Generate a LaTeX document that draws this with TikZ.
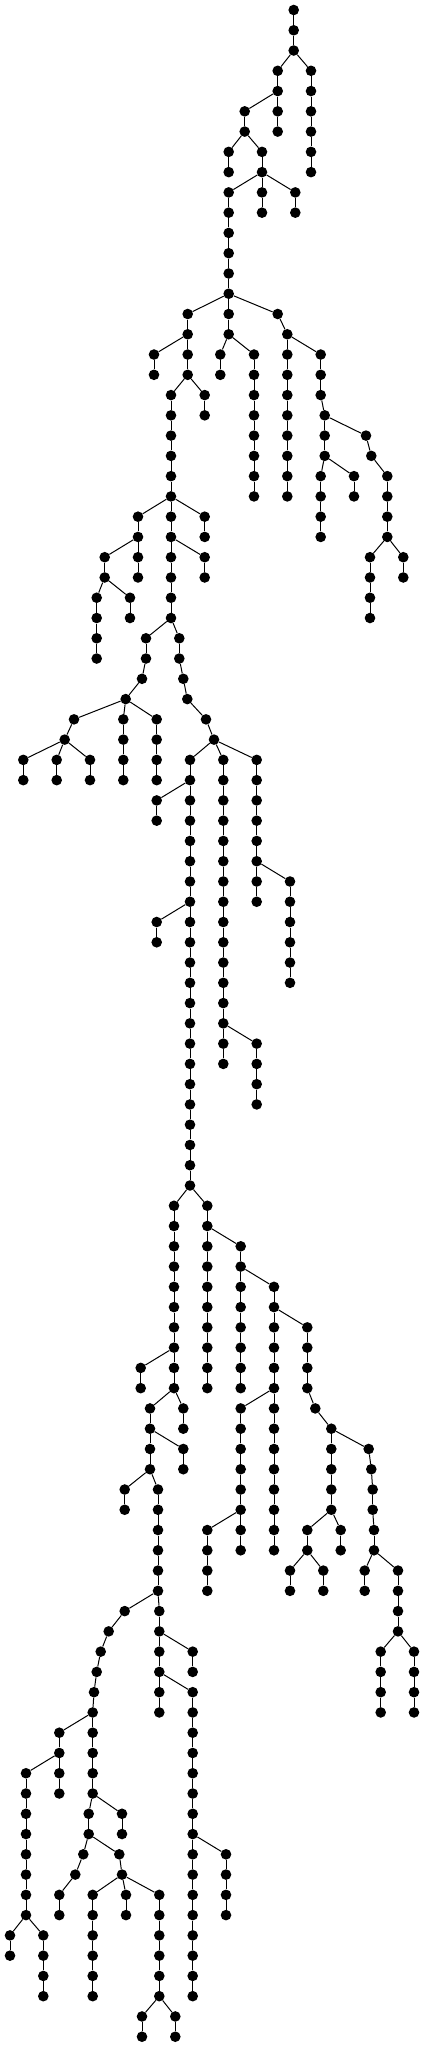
\documentclass[tikz,border=0pt]{standalone}
\begin{document}
\begin{tikzpicture}[x=1pt,y=-20.267pt,
  treedot/.style={circle,fill=black,draw=none,inner sep=0pt,minimum size=10.6pt},
  treeedge/.style={draw=black,line width=1pt}]
\useasboundingbox[fill=white] (0pt,10pt) rectangle (424pt,-2037pt);
\node[treedot] (n1) at (293.7,0) {};
\foreach \i/\x/\l/\p in {
2/293.7/1/1,
3/293.7/2/2,
4/277.7/3/3, 5/311/3/3,
6/277.7/4/4, 7/311/4/5,
8/244.7/5/6, 9/277.7/5/6, 10/311/5/7,
11/244.7/6/8, 12/277.7/6/9, 13/311/6/10,
14/228.7/7/11, 15/262/7/11, 16/311/7/13,
17/228.7/8/14, 18/262/8/15, 19/311/8/16,
20/228.7/9/18, 21/262/9/18, 22/295.3/9/18,
23/228.7/10/20, 24/262/10/21, 25/295.3/10/22,
26/228.7/11/23,
27/228.7/12/26,
28/228.7/13/27,
29/228.7/14/28,
30/187.7/15/29, 31/228.7/15/29, 32/277.7/15/29,
33/187.7/16/30, 34/228.7/16/31, 35/287.3/16/32,
36/154/17/33, 37/187.7/17/33, 38/220.3/17/34, 39/254/17/34, 40/287.3/17/35, 41/320.7/17/35,
42/154/18/36, 43/187.7/18/37, 44/220.3/18/38, 45/254/18/39, 46/287.3/18/40, 47/320.7/18/41,
48/171/19/43, 49/204.7/19/43, 50/254/19/45, 51/287.3/19/46, 52/320.7/19/47,
53/171/20/48, 54/204.7/20/49, 55/254/20/50, 56/287.3/20/51, 57/324.7/20/52,
58/171/21/53, 59/254/21/55, 60/287.3/21/56, 61/324.7/21/57, 62/366/21/57,
63/171/22/58, 64/254/22/59, 65/287.3/22/60, 66/324.7/22/61, 67/371.3/22/62,
68/171/23/63, 69/254/23/64, 70/287.3/23/65, 71/320.7/23/66, 72/354/23/66, 73/387.3/23/67,
74/171/24/68, 75/254/24/69, 76/287.3/24/70, 77/320.7/24/71, 78/354/24/72, 79/387.3/24/73,
80/138/25/74, 81/171/25/74, 82/204.7/25/74, 83/320.7/25/77, 84/387.3/25/79,
85/138/26/80, 86/171/26/81, 87/204.7/26/82, 88/320.7/26/83, 89/387.3/26/84,
90/104.7/27/85, 91/138/27/85, 92/171/27/86, 93/204.7/27/86, 94/370/27/89, 95/403.3/27/89,
96/104.7/28/90, 97/138/28/91, 98/171/28/92, 99/204.7/28/93, 100/370/28/94, 101/403.3/28/95,
102/96.7/29/96, 103/130/29/96, 104/171/29/98, 105/370/29/100,
106/96.7/30/102, 107/130/30/103, 108/171/30/104, 109/370/30/105,
110/96.7/31/106, 111/146/31/108, 112/179.3/31/108,
113/96.7/32/110, 114/146/32/111, 115/179.3/32/112,
116/142/33/114, 117/183.3/33/115,
118/125.7/34/116, 119/187.3/34/117,
120/74/35/118, 121/123.3/35/118, 122/156.7/35/118, 123/206/35/119,
124/64.7/36/120, 125/123.3/36/121, 126/156.7/36/122, 127/214/36/123,
128/23.3/37/124, 129/56.7/37/124, 130/90/37/124, 131/123.3/37/125, 132/156.7/37/126, 133/190/37/127, 134/223.3/37/127, 135/256.7/37/127,
136/23.3/38/128, 137/56.7/38/129, 138/90/38/130, 139/123.3/38/131, 140/156.7/38/132, 141/190/38/133, 142/223.3/38/134, 143/256.7/38/135,
144/156.7/39/141, 145/190/39/141, 146/223.3/39/142, 147/256.7/39/143,
148/156.7/40/144, 149/190/40/145, 150/223.3/40/146, 151/256.7/40/147,
152/190/41/149, 153/223.3/41/150, 154/256.7/41/151,
155/190/42/152, 156/223.3/42/153, 157/256.7/42/154,
158/190/43/155, 159/223.3/43/156, 160/256.7/43/157, 161/290/43/157,
162/190/44/158, 163/223.3/44/159, 164/256.7/44/160, 165/290/44/161,
166/156.7/45/162, 167/190/45/162, 168/223.3/45/163, 169/290/45/165,
170/156.7/46/166, 171/190/46/167, 172/223.3/46/168, 173/290/46/169,
174/190/47/171, 175/223.3/47/172, 176/290/47/173,
177/190/48/174, 178/223.3/48/175, 179/290/48/176,
180/190/49/177, 181/223.3/49/178,
182/190/50/180, 183/223.3/50/181,
184/190/51/182, 185/223.3/51/183, 186/256.7/51/183,
187/190/52/184, 188/223.3/52/185, 189/256.7/52/186,
190/190/53/187, 191/256.7/53/189,
192/190/54/190, 193/256.7/54/191,
194/190/55/192,
195/190/56/194,
196/190/57/195,
197/190/58/196,
198/174/59/197, 199/207.3/59/197,
200/174/60/198, 201/207.3/60/199,
202/174/61/200, 203/207.3/61/201, 204/240.7/61/201,
205/174/62/202, 206/207.3/62/203, 207/240.7/62/204,
208/174/63/205, 209/207.3/63/206, 210/240.7/63/207, 211/274/63/207,
212/174/64/208, 213/207.3/64/209, 214/240.7/64/210, 215/274/64/211,
216/174/65/212, 217/207.3/65/213, 218/240.7/65/214, 219/274/65/215, 220/307.3/65/215,
221/174/66/216, 222/207.3/66/217, 223/240.7/66/218, 224/274/66/219, 225/307.3/66/220,
226/140.7/67/221, 227/174/67/221, 228/207.3/67/222, 229/240.7/67/223, 230/274/67/224, 231/307.3/67/225,
232/140.7/68/226, 233/174/68/227, 234/207.3/68/228, 235/240.7/68/229, 236/274/68/230, 237/307.3/68/231,
238/150/69/233, 239/183.3/69/233, 240/240.7/69/236, 241/274/69/236, 242/315.3/69/237,
243/150/70/238, 244/183.3/70/239, 245/240.7/70/240, 246/274/70/241, 247/331.3/70/242,
248/150/71/243, 249/183.3/71/243, 250/240.7/71/245, 251/274/71/246, 252/331.3/71/247, 253/368.7/71/247,
254/150/72/248, 255/183.3/72/249, 256/240.7/72/250, 257/274/72/251, 258/331.3/72/252, 259/371.3/72/253,
260/124.7/73/254, 261/158/73/254, 262/240.7/73/256, 263/274/73/257, 264/331.3/73/258, 265/372.7/73/259,
266/124.7/74/260, 267/158/74/261, 268/240.7/74/262, 269/274/74/263, 270/331.3/74/264, 271/372.7/74/265,
272/158/75/267, 273/207.3/75/268, 274/240.7/75/268, 275/274/75/269, 276/307.3/75/270, 277/340.7/75/270, 278/374/75/271,
279/158/76/272, 280/207.3/76/273, 281/240.7/76/274, 282/274/76/275, 283/307.3/76/276, 284/340.7/76/277, 285/374/76/278,
286/158/77/279, 287/207.3/77/280, 288/290/77/283, 289/323.3/77/283, 290/364.7/77/285, 291/398/77/285,
292/158/78/286, 293/207.3/78/287, 294/290/78/288, 295/323.3/78/289, 296/364.7/78/290, 297/398/78/291,
298/124.7/79/292, 299/159.3/79/292, 300/398/79/297,
301/108.7/80/298, 302/159.3/80/299, 303/398/80/300,
304/100.7/81/301, 305/159.3/81/302, 306/192.7/81/302, 307/380.7/81/303, 308/414/81/303,
309/96.7/82/304, 310/159.3/82/305, 311/192.7/82/306, 312/380.7/82/307, 313/414/82/308,
314/94/83/309, 315/159.3/83/310, 316/192.7/83/310, 317/380.7/83/312, 318/414/83/313,
319/92.7/84/314, 320/159.3/84/315, 321/192.7/84/316, 322/380.7/84/317, 323/414/84/318,
324/59.3/85/319, 325/92.7/85/319, 326/192.7/85/321,
327/59.3/86/324, 328/92.7/86/325, 329/192.7/86/326,
330/26/87/327, 331/59.3/87/327, 332/92.7/87/328, 333/192.7/87/329,
334/26/88/330, 335/59.3/88/331, 336/92.7/88/332, 337/192.7/88/333,
338/26/89/334, 339/88.7/89/336, 340/122/89/336, 341/192.7/89/337,
342/26/90/338, 343/88.7/90/339, 344/122/90/340, 345/192.7/90/341,
346/26/91/342, 347/83.3/91/343, 348/119.3/91/343, 349/192.7/91/345, 350/226/91/345,
351/26/92/346, 352/75.3/92/347, 353/122/92/348, 354/192.7/92/349, 355/226/92/350,
356/26/93/351, 357/59.3/93/352, 358/92.7/93/353, 359/126/93/353, 360/159.3/93/353, 361/192.7/93/354, 362/226/93/355,
363/26/94/356, 364/59.3/94/357, 365/92.7/94/358, 366/126/94/359, 367/159.3/94/360, 368/192.7/94/361, 369/226/94/362,
370/10/95/363, 371/43.3/95/363, 372/92.7/95/365, 373/159.3/95/367, 374/192.7/95/368,
375/10/96/370, 376/43.3/96/371, 377/92.7/96/372, 378/159.3/96/373, 379/192.7/96/374,
380/43.3/97/376, 381/92.7/97/377, 382/159.3/97/378, 383/192.7/97/379,
384/43.3/98/380, 385/92.7/98/381, 386/159.3/98/382, 387/192.7/98/383,
388/142/99/386, 389/175.3/99/386,
390/142/100/388, 391/175.3/100/389}
{
  \node[treedot] (n\i) at (\x,\l) {};
  \draw[treeedge] (n\p) -- (n\i);
}
\end{tikzpicture}
\end{document}
